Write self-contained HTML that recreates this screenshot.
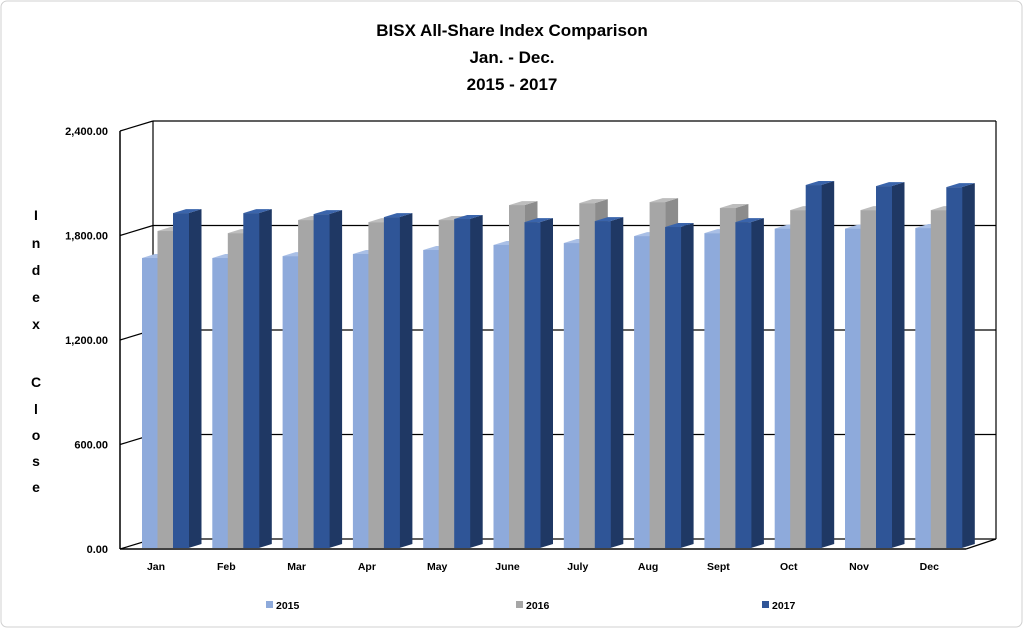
<!DOCTYPE html>
<html><head><meta charset="utf-8"><style>
html,body{margin:0;padding:0;background:#fff}
svg{display:block;font-family:"Liberation Sans",Arial,sans-serif}
</style></head><body>
<svg id="c" width="1024" height="629" viewBox="0 0 1024 629" xmlns="http://www.w3.org/2000/svg">
<rect x="1" y="1" width="1021" height="626" rx="6" fill="#fff" stroke="#d0d0d0"/>
<g font-weight="bold" font-size="17" text-anchor="middle" fill="#000">
<text x="512" y="36">BISX All-Share Index Comparison</text>
<text x="512" y="63">Jan. - Dec.</text>
<text x="512" y="90">2015 - 2017</text>
</g>
<g id="axes"></g>
<g id="bars"></g>
<g id="labels" font-weight="bold" font-size="11" fill="#000"></g>
</svg>
<script>
const categories=["Jan","Feb","Mar","Apr","May","June","July","Aug","Sept","Oct","Nov","Dec"];
const series2015=[1665,1665,1676,1688,1711,1740,1751,1791,1808,1834,1834,1837];
const series2016=[1820,1808,1883,1871,1883,1969,1980,1986,1952,1940,1940,1940];
const series2017=[1923,1923,1917,1900,1889,1871,1877,1843,1871,2084,2078,2072];
const seriesNames=["2015","2016","2017"];
const ticks=[0,600,1200,1800,2400];
const tickLabels=["0.00","600.00","1,200.00","1,800.00","2,400.00"];

const NS="http://www.w3.org/2000/svg";
const colors=[["#8eaadb","#7a95c6","#a9bfe6"],["#a6a6a6","#8c8c8c","#bdbdbd"],["#2f5597","#1f3864","#3a64ab"]];
const x0=120,yBase=549,yTop=131,DX=33,DY=-10,maxV=2400;
const y=v=>yBase-(v/maxV)*(yBase-yTop);
const groupX=i=>142+i*70.3;
const BW=15.5,BD=13,BDY=-4;
function el(tag,attrs,parent){const e=document.createElementNS(NS,tag);for(const k in attrs)e.setAttribute(k,attrs[k]);parent.appendChild(e);return e;}
const ax=document.getElementById("axes"),bg=document.getElementById("bars"),lb=document.getElementById("labels");
ticks.forEach((t,i)=>{
 const yy=y(t);
 const g=el("line",{x1:x0+DX,y1:yy+DY,x2:996,y2:yy+DY,stroke:"#000","stroke-width":1.2},ax);
 
 
 const d=el("line",{x1:x0,y1:yy,x2:x0+DX,y2:yy+DY,stroke:"#000","stroke-width":1.2},ax);
 
 
 const tl=el("text",{x:108,y:yy+4,"text-anchor":"end"},lb);
 tl.textContent=tickLabels[i];
 
 
});
el("line",{x1:x0,y1:y(0),x2:x0,y2:y(maxV),stroke:"#000","stroke-width":1.5},ax);
el("line",{x1:x0+DX,y1:y(0)+DY,x2:x0+DX,y2:y(maxV)+DY,stroke:"#000","stroke-width":1.2},ax);
el("line",{x1:996,y1:y(0)+DY,x2:996,y2:y(maxV)+DY,stroke:"#000","stroke-width":1.2},ax);
el("line",{x1:x0,y1:y(0),x2:966,y2:y(0),stroke:"#000","stroke-width":1.5},ax);
el("line",{x1:966,y1:y(0),x2:996,y2:y(0)+DY,stroke:"#000","stroke-width":1.2},ax);
const all=[series2015,series2016,series2017];
categories.forEach((c,i)=>{
 for(let s=0;s<3;s++){
  const v=all[s][i];const bx=groupX(i)+s*BW;const by=y(v)-1;const yb=yBase-1;
  const g=el("g",{},bg);
  
  
  el("polygon",{points:`${bx+BW},${by} ${bx+BW+BD},${by+BDY} ${bx+BW+BD},${yb+BDY} ${bx+BW},${yb}`,fill:colors[s][1]},g);
  el("polygon",{points:`${bx},${by} ${bx+BD},${by+BDY} ${bx+BW+BD},${by+BDY} ${bx+BW},${by}`,fill:colors[s][2]},g);
  el("rect",{x:bx,y:by,width:BW+0.5,height:yb-by,fill:colors[s][0]},g);
 }
 const t=el("text",{x:groupX(i)+14,y:570,"text-anchor":"middle","font-size":10.5},lb);
 t.textContent=c;
 
 
});
const letters=[["I",215],["n",243],["d",270],["e",297],["x",324],["C",382],["l",409],["o",435],["s",461],["e",487]];
const yt=el("g",{"font-size":14,"text-anchor":"middle"},lb);


letters.forEach(([ch,yy])=>{const t=el("text",{x:36,y:yy+5},yt);t.textContent=ch;});
const lx=[266,516,762];
seriesNames.forEach((n,s)=>{
 const g=el("g",{},lb);
 
 
 el("rect",{x:lx[s],y:601,width:7,height:7,fill:colors[s][0]},g);
 const t=el("text",{x:lx[s]+10,y:609,"font-size":10.5},g);t.textContent=n;
});
</script>
</body></html>
